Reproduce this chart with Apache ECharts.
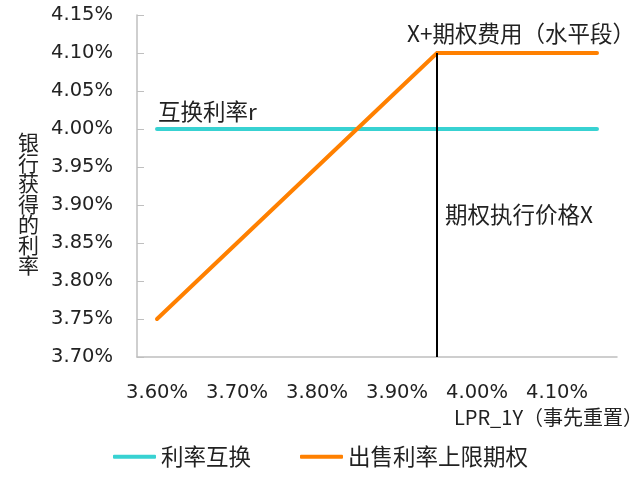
<!DOCTYPE html>
<html>
<head>
<meta charset="utf-8">
<script src="https://cdn.jsdelivr.net/npm/echarts@6/dist/echarts.min.js"></script>
<style>
html,body{margin:0;padding:0;background:#fff;}
#chart{width:641px;height:478px;}
</style>
</head>
<body>
<div id="chart"></div>
<script>
// Categories: LPR_1Y (reset in advance), in percent
var categories = ['3.60%','3.65%','3.70%','3.75%','3.80%','3.85%','3.90%','3.95%','4.00%','4.05%','4.10%','4.15%'];
// Interest rate swap: fixed rate r
var swapValues = [4.00,4.00,4.00,4.00,4.00,4.00,4.00,4.00,4.00,4.00,4.00,4.00];
// Sell cap option: LPR + premium, capped at X + premium
var capValues = [3.75,3.80,3.85,3.90,3.95,4.00,4.05,4.10,4.10,4.10,4.10,4.10];
// Strike X
var strikeCategory = '3.95%';
var strikeTop = 4.10;
var yMin = 3.70, yMax = 4.15, yStep = 0.05;
var seriesNames = ['利率互换','出售利率上限期权'];
var yAxisTitle = '银行获得的利率';
var xAxisTitle = 'LPR_1Y（事先重置）';
var notes = ['互换利率r','X+期权费用（水平段）','期权执行价格X'];

var cjk = "'Noto Sans CJK SC','Noto Sans',sans-serif";
var num = "'DejaVu Sans',sans-serif";
var txt = '#222';

var chart = echarts.init(document.getElementById('chart'));
chart.setOption({
  animation: false,
  grid: {left: 137, right: 24, top: 15, bottom: 121, containLabel: false, outerBoundsMode: 'none'},
  xAxis: {
    type: 'category',
    data: categories,
    boundaryGap: true,
    name: xAxisTitle,
    nameLocation: 'end',
    nameGap: 26,
    nameTextStyle: {fontFamily: cjk, fontSize: 20, color: txt, align: 'right', verticalAlign: 'top', padding: [50, 0, 0, 0]},
    axisLine: {lineStyle: {color: '#bfbfbf', width: 1.5}},
    axisTick: {inside: true, length: 7, interval: 0, alignWithLabel: false, lineStyle: {color: '#bfbfbf', width: 1}},
    axisLabel: {interval: 1, margin: 26, fontFamily: num, fontSize: 19.5, color: txt},
    splitLine: {show: false}
  },
  yAxis: {
    type: 'value',
    min: yMin, max: yMax, interval: yStep,
    axisLine: {show: true, lineStyle: {color: '#bfbfbf', width: 1.5}},
    axisTick: {show: true, inside: true, length: 7, lineStyle: {color: '#bfbfbf', width: 1}},
    axisLabel: {margin: 24, fontFamily: num, fontSize: 19.5, color: txt,
      formatter: function (v) { return v.toFixed(2) + '%'; }},
    splitLine: {show: false}
  },
  legend: {
    bottom: 5,
    left: 'center',
    icon: 'roundRect',
    itemWidth: 43,
    itemHeight: 4,
    itemGap: 49,
    textStyle: {fontFamily: cjk, fontSize: 22.5, color: txt},
    data: seriesNames
  },
  series: [
    {
      name: seriesNames[0], type: 'line', data: swapValues, symbol: 'none',
      lineStyle: {color: '#38d2d2', width: 4, cap: 'round'}, itemStyle: {color: '#38d2d2'}
    },
    {
      name: seriesNames[1], type: 'line', data: capValues, symbol: 'none',
      lineStyle: {color: '#ff8000', width: 4, cap: 'round', join: 'miter'}, itemStyle: {color: '#ff8000'},
      z: 3,
      markLine: {
        silent: true, symbol: ['none','none'], label: {show: false},
        lineStyle: {color: '#000', width: 2, type: 'solid'},
        data: [[{coord: [strikeCategory, strikeTop]}, {coord: [strikeCategory, yMin]}]]
      }
    }
  ],
  graphic: [
    {type: 'text', left: 18, top: 132, style: {text: yAxisTitle.split('').join('\n'), fontFamily: cjk, fontSize: 21, lineHeight: 20.5, fill: txt, align: 'left'}},
    {type: 'text', left: 158, top: 100, style: {text: notes[0], fontFamily: cjk, fontSize: 22.5, fill: txt}},
    {type: 'text', left: 407, top: 22, style: {text: notes[1], fontFamily: cjk, fontSize: 22.5, fill: txt}},
    {type: 'text', left: 445, top: 203, style: {text: notes[2], fontFamily: cjk, fontSize: 22.5, fill: txt}}
  ]
});
</script>
</body>
</html>
